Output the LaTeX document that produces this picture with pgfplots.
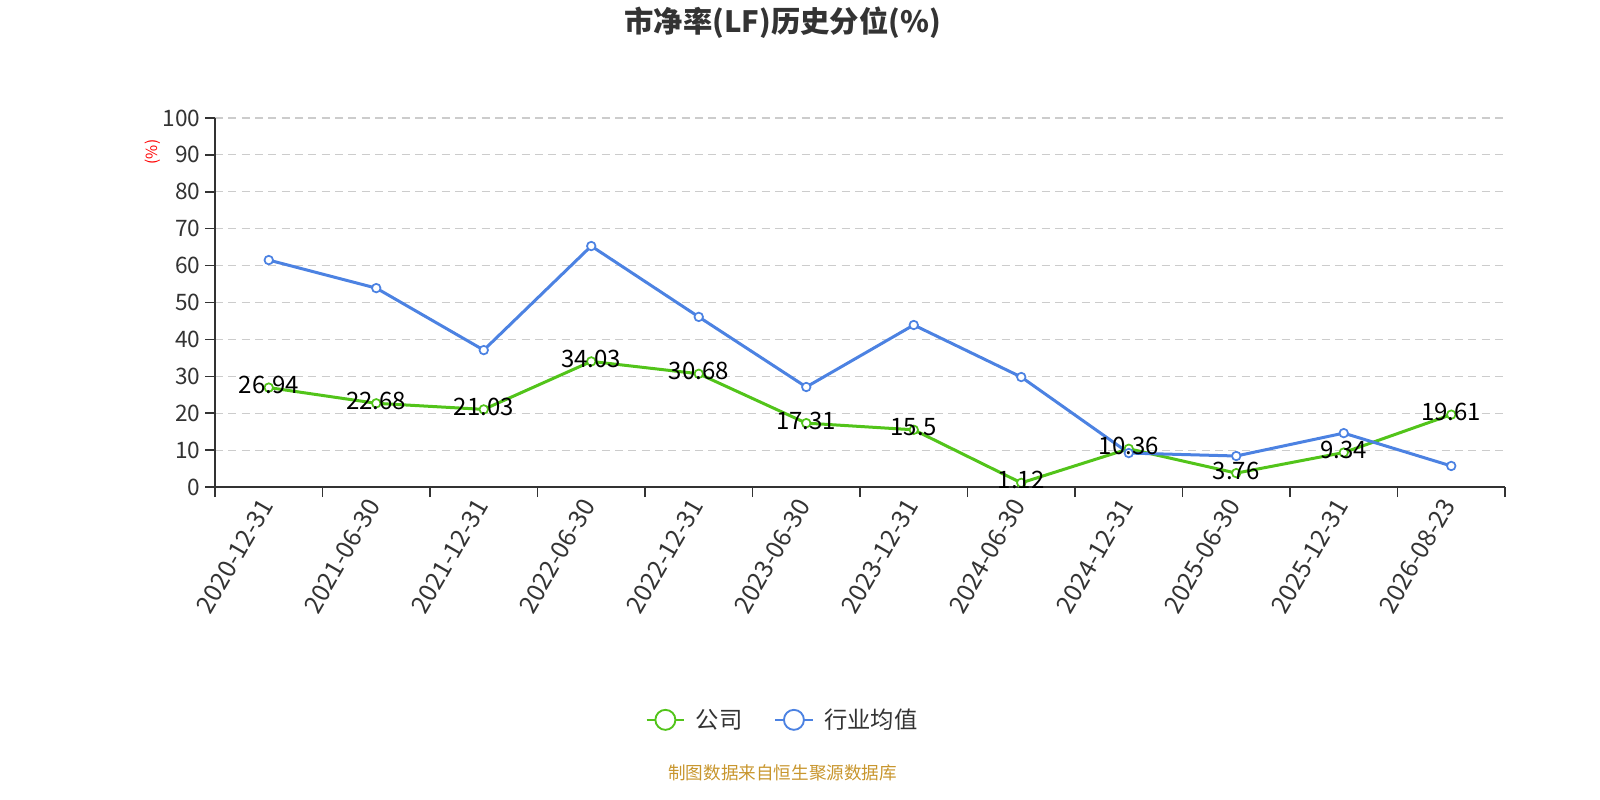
\documentclass[border=0pt]{standalone}
\usepackage{fontspec}
\setmainfont{Noto Sans CJK SC}
\usepackage{pgfplots}
\pgfplotsset{compat=1.18}
\definecolor{cgreen}{RGB}{82,196,26}
\definecolor{cblue}{RGB}{76,130,226}
\definecolor{ctext}{RGB}{51,51,51}
\definecolor{csrc}{RGB}{200,150,46}
\begin{document}
\begin{tikzpicture}
\useasboundingbox (0,0) rectangle (1200pt,600pt);
\node[font=\fontsize{22}{24}\selectfont\bfseries, text=ctext] at (587pt,583pt) {市净率(LF)历史分位(\%)};
\node[font=\fontsize{13.2}{15}\selectfont, text=csrc] at (587pt,20pt) {制图数据来自恒生聚源数据库};
\node[rotate=90, font=\fontsize{11.5}{13}\selectfont, text=red] at (114.75pt,486pt) {(\%)};
\begin{axis}[
  at={(161.25pt,234.75pt)}, anchor=south west, scale only axis,
  width=967.5pt, height=276.75pt,
  xmin=-0.5, xmax=11.5, ymin=0, ymax=100,
  xtick={0,...,11},
  xticklabels={2020-12-31,2021-06-30,2021-12-31,2022-06-30,2022-12-31,2023-06-30,2023-12-31,2024-06-30,2024-12-31,2025-06-30,2025-12-31,2026-08-23},
  minor xtick={-0.5,0.5,...,11.5},
  ytick={0,10,...,100},
  axis lines*=left,
  axis line style={-, draw=ctext, line width=1.2pt},
  tick align=outside,
  major tick length=7.5pt, minor tick length=7.5pt,
  tick style={draw=ctext, line width=1.1pt},
  major x tick style={draw=none},
  ymajorgrids,
  grid style={dash pattern=on 6pt off 4pt, draw=black!20, line width=0.9pt},
  /pgf/number format/assume math mode=true,
  yticklabel style={font=\fontsize{17}{19}\selectfont, text=ctext},
  xticklabel style={font=\fontsize{18.5}{20}\selectfont, text=ctext, rotate=60, anchor=east},
  legend style={at={(0.4403,-0.631)}, anchor=center, draw=none, fill=none,
    legend columns=2, font=\fontsize{17.5}{19}\selectfont, text=ctext,
    /tikz/every odd column/.append style={column sep=6pt},
    /tikz/every even column/.append style={column sep=22pt}},
  every node near coord/.append style={anchor=center, yshift=2pt, font=\fontsize{18}{20}\selectfont, text=black},
]
\addplot[cgreen, line width=2.25pt, mark=*, mark size=3.2pt, mark options={fill=white, line width=1.3pt},
  legend image code/.code={\draw[cgreen, line width=1.4pt] (0pt,0pt) -- (28pt,0pt); \draw[cgreen, fill=white, line width=1.4pt] (14pt,0pt) circle (7.5pt);}]
  coordinates {(0,26.94) (1,22.68) (2,21.03) (3,34.03) (4,30.68) (5,17.31) (6,15.5) (7,1.12) (8,10.36) (9,3.76) (10,9.34) (11,19.61)};
\addlegendentry{公司}
\addplot[cblue, line width=2.25pt, mark=*, mark size=3.2pt, mark options={fill=white, line width=1.3pt},
  legend image code/.code={\draw[cblue, line width=1.4pt] (0pt,0pt) -- (28pt,0pt); \draw[cblue, fill=white, line width=1.4pt] (14pt,0pt) circle (7.5pt);}]
  coordinates {(0,61.5) (1,53.9) (2,37.1) (3,65.3) (4,46.1) (5,27.1) (6,43.9) (7,29.8) (8,9.2) (9,8.4) (10,14.6) (11,5.7)};
\addlegendentry{行业均值}
\addplot[draw=none, mark=none, forget plot, nodes near coords, point meta=explicit symbolic]
  coordinates {(0,26.94)[26.94] (1,22.68)[22.68] (2,21.03)[21.03] (3,34.03)[34.03] (4,30.68)[30.68] (5,17.31)[17.31] (6,15.5)[15.5] (7,1.12)[1.12] (8,10.36)[10.36] (9,3.76)[3.76] (10,9.34)[9.34] (11,19.61)[19.61]};
\end{axis}
\end{tikzpicture}
\end{document}
